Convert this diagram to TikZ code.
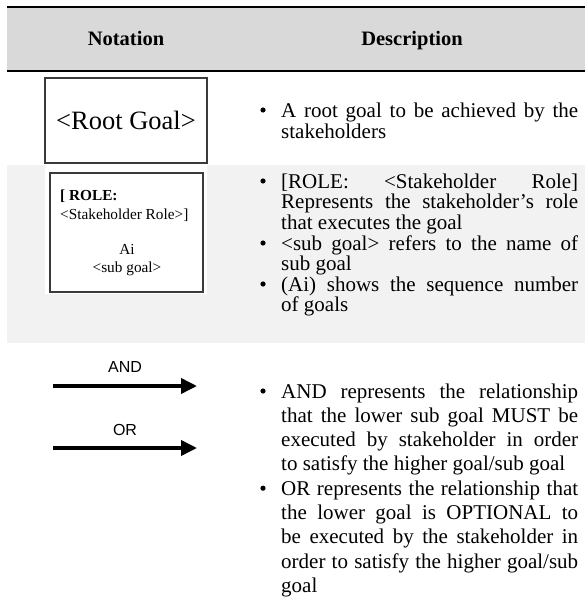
\documentclass[tikz,border=0pt]{standalone}
\usepackage{fontspec}
\setmainfont{Liberation Serif}
\newfontfamily\arialf{Liberation Sans}
\usetikzlibrary{arrows.meta}
\definecolor{hdrgray}{HTML}{D9D9D9}
\definecolor{rowgray}{HTML}{F2F2F2}
\definecolor{boxline}{HTML}{3A3A3A}
\newlength{\descw}
\setlength{\descw}{297bp}
\newcommand{\jfull}[1]{\makebox[\descw][s]{#1}}
\newcommand{\jlast}[1]{\makebox[\descw][l]{#1}}
\begin{document}
\begin{tikzpicture}[x=1bp,y=-1bp,
  hdr/.style={anchor=base, inner sep=0, font=\bfseries\fontsize{20.5bp}{24bp}\selectfont},
  descA/.style={anchor=base west, inner sep=0, align=left, font=\fontsize{21bp}{20.5bp}\selectfont},
  descB/.style={anchor=base west, inner sep=0, align=left, font=\fontsize{21bp}{24.3bp}\selectfont},
  bul/.style={circle, fill=black, inner sep=0, minimum size=5.2bp},
  goalbox/.style={draw=boxline, line width=1.4bp, fill=white, inner sep=0},
  rolefont/.style={anchor=base west, inner sep=0, font=\fontsize{15.3bp}{18bp}\selectfont},
  sublbl/.style={anchor=base, inner sep=0, font=\fontsize{15.3bp}{18bp}\selectfont},
  arlbl/.style={anchor=base, inner sep=0, font=\arialf\fontsize{16bp}{18bp}\selectfont},
  rel/.style={line width=3.6bp, -{Triangle[length=16bp,width=15bp]}}
]
\useasboundingbox (0,0) rectangle (585,597);
\fill[white] (0,0) rectangle (585,597);
% header
\fill[hdrgray] (7,7) rectangle (585,71);
\draw[line width=2.2bp] (7,7) -- (585,7);
\draw[line width=2.2bp] (7,71) -- (585,71);
\node[hdr] (hnot) at (126,46) {Notation};
\node[hdr] (hdesc) at (412,46) {Description};
% row 2 background
\fill[rowgray] (7,165) rectangle (585,343);
\fill[white] (45,165) rectangle (207,294);
% row 1
\node[goalbox, minimum width=162bp, minimum height=85bp, font=\fontsize{26.5bp}{30bp}\selectfont] (root) at (126,120.5) {<Root Goal>};
\node[bul] (b1) at (263,110) {};
\node[descA] (d1) at (281,138.5) {\jfull{A root goal to be achieved by the}\\\jlast{stakeholders}};
% row 2
\node[goalbox, minimum width=153bp, minimum height=119bp] (role) at (126.5,232.5) {};
\node[rolefont, font=\bfseries\fontsize{15.3bp}{18bp}\selectfont] (rl1) at (60,200) {[ ROLE:};
\node[rolefont] (rl2) at (60,219) {<Stakeholder Role>]};
\node[sublbl] (ai) at (127,254) {Ai};
\node[sublbl] (sg) at (127,272) {<sub goal>};
\node[bul] (b2) at (263,181) {};
\node[descA] (d2) at (281,229) {\jfull{[ROLE: <Stakeholder Role]}\\\jfull{Represents the stakeholder’s role}\\\jlast{that executes the goal}};
\node[bul] (b3) at (263,243) {};
\node[descA] (d3) at (281,270.5) {\jfull{<sub goal> refers to the name of}\\\jlast{sub goal}};
\node[bul] (b4) at (263,284) {};
\node[descA] (d4) at (281,311.5) {\jfull{(Ai) shows the sequence number}\\\jlast{of goals}};
% row 3
\node[arlbl] (andl) at (125,372) {AND};
\coordinate (a1s) at (53,386);
\coordinate (a1e) at (197,386);
\draw[rel] (a1s) -- (a1e);
\node[arlbl] (orl) at (125,435) {OR};
\coordinate (a2s) at (53,448);
\coordinate (a2e) at (197,448);
\draw[rel] (a2s) -- (a2e);
\node[bul] (b5) at (263,391) {};
\node[descB] (d5) at (281,470.9) {\jfull{AND represents the relationship}\\\jfull{that the lower sub goal MUST be}\\\jfull{executed by stakeholder in order}\\\jlast{to satisfy the higher goal/sub goal}};
\node[bul] (b6) at (263,488.2) {};
\node[descB] (d6) at (281,592.4) {\jfull{OR represents the relationship that}\\\jfull{the lower goal is OPTIONAL to}\\\jfull{be executed by the stakeholder in}\\\jfull{order to satisfy the higher goal/sub}\\\jlast{goal}};
\end{tikzpicture}
\end{document}
